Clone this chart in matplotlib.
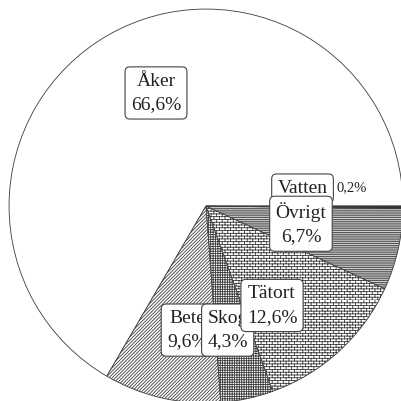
import numpy as np
import matplotlib
matplotlib.use('Agg')
import matplotlib.pyplot as plt
import matplotlib.hatch as mhatch


# egen "tegel"-skraffering, ersätter stjärnorna ('*')
class BrickHatch(mhatch.HatchPatternBase):
    def __init__(self, hatch, density):
        self.n = hatch.count('*') * density
        if self.n % 2:
            self.n += 1
        self.num_vertices = 2 * self.n + 2 * self.n * (self.n // 2)

    def set_vertices_and_codes(self, vertices, codes):
        n = self.n
        h = 1.0 / n
        i = 0
        for k in range(n):
            vertices[i] = (0, k * h)
            vertices[i + 1] = (1, k * h)
            i += 2
            for j in range(n // 2):
                x = (2 * j + (k % 2)) * h
                vertices[i] = (x, k * h)
                vertices[i + 1] = (x, (k + 1) * h)
                i += 2
        codes[0::2] = 1  # MOVETO
        codes[1::2] = 2  # LINETO


mhatch._hatch_types = [t for t in mhatch._hatch_types if t is not mhatch.Stars] + [BrickHatch]

plt.rcParams['font.family'] = ['Liberation Serif', 'DejaVu Serif']
plt.rcParams['hatch.linewidth'] = 0.6

# Markanvändning (%)
kategorier = ['Åker', 'Bete', 'Skog', 'Tätort', 'Övrigt', 'Vatten']
andelar = [66.6, 9.6, 4.3, 12.6, 6.7, 0.2]
etiketter = ['66,6%', '9,6%', '4,3%', '12,6%', '6,7%', '0,2%']

monster = [None, '//////////', '+++++++', '******', '---------', None]
farger = ['white', 'white', 'white', 'white', '#d4d4d4', '#333333']

fig = plt.figure(figsize=(4.02, 4.01), dpi=100)
ax = fig.add_axes([0, 0, 1, 1])

wedges, _ = ax.pie(andelar, startangle=0, counterclock=True, radius=1,
                   colors=farger,
                   wedgeprops=dict(edgecolor='#3c3c3c', linewidth=0.6))
for w, m in zip(wedges, monster):
    if m:
        w.set_hatch(m)

ax.set_xlim(-1.046, 0.995)
ax.set_ylim(-0.99, 1.046)
ax.set_aspect('equal')
ax.axis('off')

box = dict(boxstyle='round,pad=0.3,rounding_size=0.25', facecolor='white',
           edgecolor='#444444', linewidth=0.8)

# etikettlägen (layout)
lagen = {
    'Åker': (-0.254, 0.574, 3),
    'Bete': (-0.095, -0.63, 3),
    'Skog': (0.11, -0.63, 4),
    'Tätort': (0.335, -0.505, 5),
    'Övrigt': (0.482, -0.09, 4),
}
for namn, txt in zip(kategorier, etiketter):
    if namn in lagen:
        x, y, z = lagen[namn]
        ax.text(x, y, f'{namn}\n{txt}', ha='center', va='center', fontsize=14,
                color='#222222', linespacing=1.5, bbox=box, zorder=z)

ax.text(0.49, 0.09, kategorier[5], ha='center', va='center', fontsize=14,
        color='#222222', bbox=box, zorder=3)
ax.text(0.66, 0.095, etiketter[5], ha='left', va='center', fontsize=10.5,
        color='#222222', zorder=3)

fig.savefig('out.png', dpi=100)
